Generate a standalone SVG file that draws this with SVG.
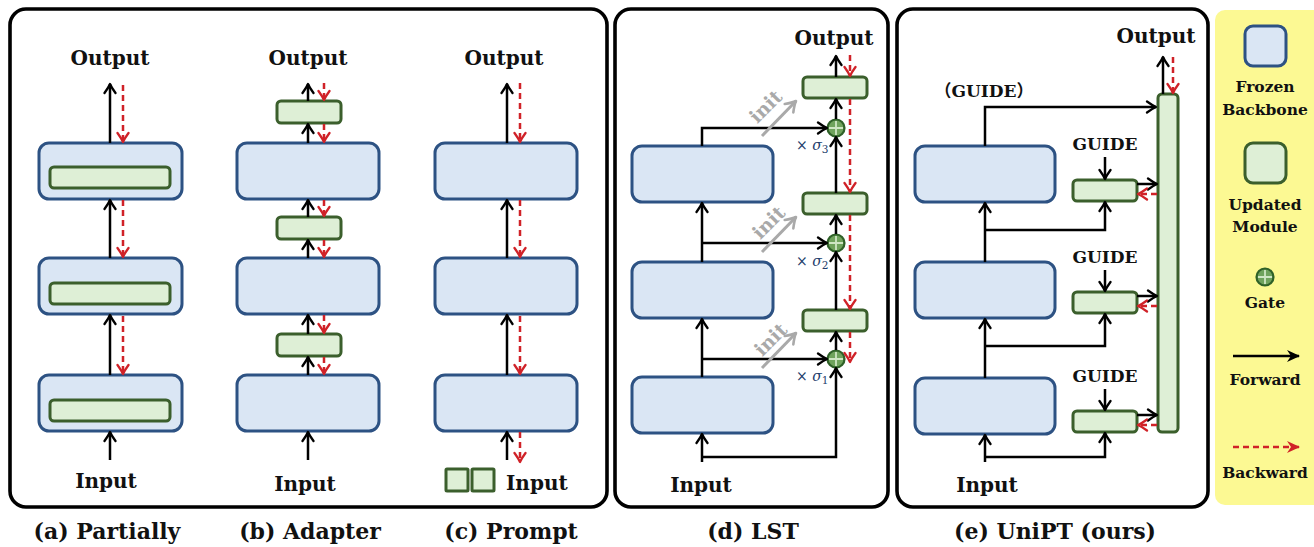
<svg xmlns="http://www.w3.org/2000/svg" width="1314" height="547" viewBox="0 0 1314 547">
<defs>
<style>
.frame{fill:#fff;stroke:#000;stroke-width:3.6}
.fz{fill:#dae6f4;stroke:#2d5283;stroke-width:3}
.up{fill:#deefd6;stroke:#3b5f2c;stroke-width:3}
.fw{fill:none;stroke:#000;stroke-width:2.5;marker-end:url(#ah)}
.ln{fill:none;stroke:#000;stroke-width:2.5}
.bw{fill:none;stroke:#d02228;stroke-width:2.5;stroke-dasharray:6 4;marker-end:url(#ar)}
.ini{fill:none;stroke:#a9a9a9;stroke-width:3;marker-end:url(#ag)}
.t{font-family:"DejaVu Serif","Liberation Serif","Noto Sans CJK SC",serif;font-weight:bold;fill:#111;text-anchor:middle}
.lbl{font-size:20px}
.cap{font-size:22px}
.gd{font-size:17px}
.lg{font-size:15.5px}
.it{font-size:19px;fill:#a9a9a9}
.sg{font-family:"DejaVu Serif","Liberation Serif",serif;font-size:14px;fill:#233c6b}
.gate circle{fill:#6fa35c;stroke:#2f6128;stroke-width:2.2}
.gate path{stroke:#cfe6c4;stroke-width:1.8}
</style>
<marker id="ah" viewBox="-11 -7 13 14" refX="0" refY="0" markerWidth="13" markerHeight="14" markerUnits="userSpaceOnUse" orient="auto">
<path d="M-9,-5.5 Q-3.5,-1.5 0,0 Q-3.5,1.5 -9,5.5" fill="none" stroke="#000" stroke-width="2.3" stroke-linecap="round" stroke-linejoin="round"/>
</marker>
<marker id="ar" viewBox="-11 -7 13 14" refX="0" refY="0" markerWidth="13" markerHeight="14" markerUnits="userSpaceOnUse" orient="auto">
<path d="M-9,-5.5 Q-3.5,-1.5 0,0 Q-3.5,1.5 -9,5.5" fill="none" stroke="#d02228" stroke-width="2.3" stroke-linecap="round" stroke-linejoin="round"/>
</marker>
<marker id="ag" viewBox="-12 -8 14 16" refX="0" refY="0" markerWidth="14" markerHeight="16" markerUnits="userSpaceOnUse" orient="auto">
<path d="M-10,-6 Q-4,-1.5 0,0 Q-4,1.5 -10,6" fill="none" stroke="#a9a9a9" stroke-width="2.6" stroke-linecap="round" stroke-linejoin="round"/>
</marker>
<marker id="lf" viewBox="-13 -7 15 14" refX="0" refY="0" markerWidth="15" markerHeight="14" markerUnits="userSpaceOnUse" orient="auto">
<path d="M1,0 L-12,-6 L-8,0 L-12,6 Z" fill="#000"/>
</marker>
<marker id="lr" viewBox="-13 -7 15 14" refX="0" refY="0" markerWidth="15" markerHeight="14" markerUnits="userSpaceOnUse" orient="auto">
<path d="M1,0 L-12,-6 L-8,0 L-12,6 Z" fill="#d02228"/>
</marker>
<g id="gatesym" class="gate"><circle cx="0" cy="0" r="8.5"/><path d="M-7,0H7M0,-7V7"/></g>
</defs>

<rect width="1314" height="547" fill="#fff"/>

<!-- panel frames -->
<g id="frames">
<rect class="frame" x="10" y="9" width="597" height="498" rx="16"/>
<rect class="frame" x="615" y="9" width="273" height="498" rx="16"/>
<rect class="frame" x="897" y="9" width="311" height="498" rx="16"/>
<rect x="1215" y="10" width="110" height="495" rx="10" fill="#fcf993"/>
</g>

<!-- (a) Partially -->
<g id="a-box1"><rect class="fz" x="39" y="143" width="143" height="56" rx="10"/><rect class="up" x="50" y="167" width="120" height="21" rx="4"/></g>
<g id="a-box2"><rect class="fz" x="39" y="258" width="143" height="56" rx="10"/><rect class="up" x="50" y="283" width="120" height="21" rx="4"/></g>
<g id="a-box3"><rect class="fz" x="39" y="375" width="143" height="56" rx="10"/><rect class="up" x="50" y="400" width="120" height="21" rx="4"/></g>
<g id="a-labels"><text class="t lbl" x="110" y="65">Output</text><text class="t lbl" x="106" y="488">Input</text><text class="t cap" x="107" y="539">(a) Partially</text></g>

<!-- (b) Adapter -->
<g id="b-box1"><rect class="fz" x="237" y="143" width="142" height="56" rx="10"/></g>
<g id="b-box2"><rect class="fz" x="237" y="258" width="142" height="56" rx="10"/></g>
<g id="b-box3"><rect class="fz" x="237" y="375" width="142" height="56" rx="10"/></g>
<g id="b-ad1"><rect class="up" x="277" y="101" width="64" height="22" rx="4"/></g>
<g id="b-ad2"><rect class="up" x="277" y="217" width="64" height="22" rx="4"/></g>
<g id="b-ad3"><rect class="up" x="277" y="334" width="64" height="22" rx="4"/></g>
<g id="b-labels"><text class="t lbl" x="308" y="65">Output</text><text class="t lbl" x="305" y="491">Input</text><text class="t cap" x="310" y="539">(b) Adapter</text></g>

<!-- (c) Prompt -->
<g id="c-box1"><rect class="fz" x="435" y="143" width="142" height="56" rx="10"/></g>
<g id="c-box2"><rect class="fz" x="435" y="258" width="142" height="56" rx="10"/></g>
<g id="c-box3"><rect class="fz" x="435" y="375" width="142" height="56" rx="10"/></g>
<g id="c-prompts"><rect class="up" x="446" y="469" width="22" height="22" rx="1"/><rect class="up" x="472" y="469" width="22" height="22" rx="1"/></g>
<g id="c-labels"><text class="t lbl" x="504" y="65">Output</text><text class="t lbl" x="506" y="490" style="text-anchor:start">Input</text><text class="t cap" x="511" y="539">(c) Prompt</text></g>

<!-- (d) LST -->
<g id="d-box1"><rect class="fz" x="632" y="146" width="141" height="56" rx="10"/></g>
<g id="d-box2"><rect class="fz" x="632" y="262" width="141" height="56" rx="10"/></g>
<g id="d-box3"><rect class="fz" x="632" y="377" width="141" height="56" rx="10"/></g>
<g id="d-side1"><rect class="up" x="803" y="77" width="64" height="21" rx="4"/></g>
<g id="d-side2"><rect class="up" x="803" y="193" width="64" height="21" rx="4"/></g>
<g id="d-side3"><rect class="up" x="803" y="310" width="64" height="21" rx="4"/></g>
<g id="d-gate3"><use href="#gatesym" x="836" y="128"/></g>
<g id="d-gate2"><use href="#gatesym" x="836" y="243"/></g>
<g id="d-gate1"><use href="#gatesym" x="836" y="359"/></g>
<g id="d-labels">
<text class="t lbl" x="834" y="45">Output</text>
<text class="t lbl" x="701" y="492">Input</text>
<text class="t cap" x="753" y="539">(d) LST</text>
<text class="sg" x="796" y="150">× <tspan font-style="italic">σ</tspan><tspan font-size="10.5" dy="3">3</tspan></text>
<text class="sg" x="796" y="266">× <tspan font-style="italic">σ</tspan><tspan font-size="10.5" dy="3">2</tspan></text>
<text class="sg" x="796" y="381">× <tspan font-style="italic">σ</tspan><tspan font-size="10.5" dy="3">1</tspan></text>
<text class="t it" transform="translate(766,107) rotate(-45)" y="6">init</text>
<text class="t it" transform="translate(769,223) rotate(-45)" y="6">init</text>
<text class="t it" transform="translate(771,340) rotate(-45)" y="6">init</text>
</g>

<!-- (e) UniPT -->
<g id="e-box1"><rect class="fz" x="915" y="146" width="140" height="56" rx="10"/></g>
<g id="e-box2"><rect class="fz" x="915" y="262" width="140" height="56" rx="10"/></g>
<g id="e-box3"><rect class="fz" x="915" y="378" width="140" height="56" rx="10"/></g>
<g id="e-mod1"><rect class="up" x="1073" y="180" width="64" height="21" rx="4"/></g>
<g id="e-mod2"><rect class="up" x="1073" y="292" width="64" height="21" rx="4"/></g>
<g id="e-mod3"><rect class="up" x="1073" y="411" width="64" height="21" rx="4"/></g>
<g id="e-bar"><rect class="up" x="1158" y="94" width="20" height="338" rx="4"/></g>
<g id="e-labels">
<text class="t lbl" x="1156" y="43">Output</text>
<text class="t lbl" x="987" y="492">Input</text>
<text class="t gd" x="984" y="97">（GUIDE）</text>
<text class="t gd" x="1105" y="150">GUIDE</text>
<text class="t gd" x="1105" y="263">GUIDE</text>
<text class="t gd" x="1105" y="382">GUIDE</text>
<text class="t cap" x="1055" y="539">(e) UniPT (ours)</text>
</g>

<!-- legend -->
<g id="legend">
<rect class="fz" x="1245" y="26" width="41" height="40" rx="8"/>
<text class="t lg" x="1265" y="92">Frozen</text>
<text class="t lg" x="1265" y="115">Backbone</text>
<rect class="up" x="1245" y="143" width="41" height="40" rx="8"/>
<text class="t lg" x="1265" y="210">Updated</text>
<text class="t lg" x="1265" y="232">Module</text>
<use href="#gatesym" x="1265" y="277"/>
<text class="t lg" x="1265" y="308">Gate</text>
<path d="M1233,356 H1299" stroke="#000" stroke-width="2.5" fill="none" marker-end="url(#lf)"/>
<text class="t lg" x="1265" y="385">Forward</text>
<path d="M1233,447 H1299" stroke="#d02228" stroke-width="2.5" stroke-dasharray="6 4" fill="none" marker-end="url(#lr)"/>
<text class="t lg" x="1265" y="478">Backward</text>
</g>

<!-- connectors -->
<g id="connectors">
<!-- a -->
<path class="fw" d="M110,143 V84"/>
<path class="fw" d="M110,258 V200"/>
<path class="fw" d="M110,375 V315"/>
<path class="fw" d="M110,460 V432"/>
<path class="bw" d="M123,85 V142"/>
<path class="bw" d="M123,200 V257"/>
<path class="bw" d="M123,316 V374"/>
<!-- b -->
<path class="fw" d="M308,101 V84"/>
<path class="fw" d="M308,143 V124"/>
<path class="fw" d="M308,217 V200"/>
<path class="fw" d="M308,258 V240"/>
<path class="fw" d="M308,334 V315"/>
<path class="fw" d="M308,375 V357"/>
<path class="fw" d="M308,460 V432"/>
<path class="bw" d="M324,83 V100"/>
<path class="bw" d="M324,124 V142"/>
<path class="bw" d="M324,200 V216"/>
<path class="bw" d="M324,240 V257"/>
<path class="bw" d="M324,315 V333"/>
<path class="bw" d="M324,357 V374"/>
<!-- c -->
<path class="fw" d="M507,143 V84"/>
<path class="fw" d="M507,258 V200"/>
<path class="fw" d="M507,375 V315"/>
<path class="fw" d="M507,460 V432"/>
<path class="bw" d="M520,83 V142"/>
<path class="bw" d="M520,200 V257"/>
<path class="bw" d="M520,316 V374"/>
<path class="bw" d="M520,432 V462"/>
<!-- d -->
<path class="fw" d="M702,146 V128 H827"/>
<path class="fw" d="M702,262 V203"/>
<path class="fw" d="M702,243 H827"/>
<path class="fw" d="M702,377 V319"/>
<path class="fw" d="M702,359 H827"/>
<path class="fw" d="M702,462 V434"/>
<path class="fw" d="M702,457 H836 V368"/>
<path class="fw" d="M836,350 V332"/>
<path class="fw" d="M836,310 V252"/>
<path class="fw" d="M836,234 V215"/>
<path class="fw" d="M836,193 V137"/>
<path class="fw" d="M836,119 V99"/>
<path class="fw" d="M836,77 V56"/>
<path class="bw" d="M850,55 V76"/>
<path class="bw" d="M850,99 V192"/>
<path class="bw" d="M850,215 V309"/>
<path class="bw" d="M850,332 V362"/>
<path class="ini" d="M762,136 L796,101"/>
<path class="ini" d="M762,252 L796,217"/>
<path class="ini" d="M762,368 L796,333"/>
<!-- e -->
<path class="fw" d="M1163,94 V57"/>
<path class="bw" d="M1173,57 V93"/>
<path class="fw" d="M985,146 V107 H1156"/>
<path class="fw" d="M985,262 V203"/>
<path class="fw" d="M985,230 H1105 V202"/>
<path class="fw" d="M985,378 V319"/>
<path class="fw" d="M985,346 H1105 V314"/>
<path class="fw" d="M985,462 V435"/>
<path class="fw" d="M985,457 H1105 V433"/>
<path class="fw" d="M1105,157 V179"/>
<path class="fw" d="M1105,270 V291"/>
<path class="fw" d="M1105,389 V410"/>
<path class="fw" d="M1137,184 H1157"/>
<path class="fw" d="M1137,296 H1157"/>
<path class="fw" d="M1137,415 H1157"/>
<path class="bw" d="M1157,194 H1138"/>
<path class="bw" d="M1157,306 H1138"/>
<path class="bw" d="M1157,425 H1138"/>
</g>
</svg>
